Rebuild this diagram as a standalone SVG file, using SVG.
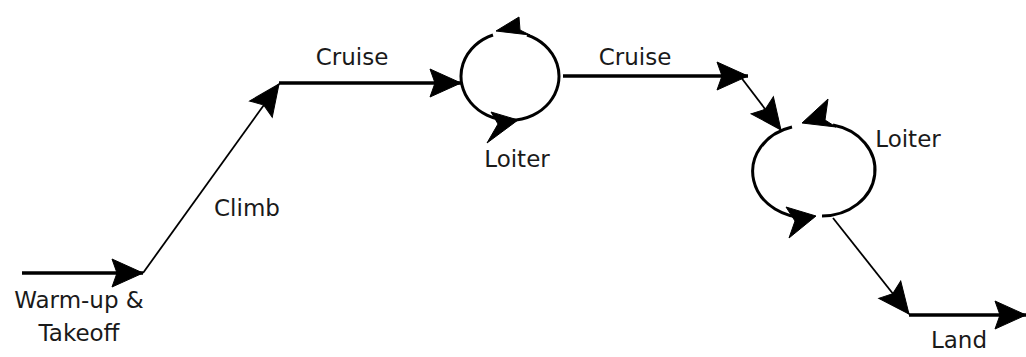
<svg xmlns="http://www.w3.org/2000/svg" width="1026" height="357" viewBox="0 0 1026 357">
  <style>
    .thick { stroke: #000; stroke-width: 3.5; fill: none; }
    .thin { stroke: #000; stroke-width: 1.8; fill: none; }
    .loop { stroke: #000; stroke-width: 3; fill: none; }
    .head { fill: #000; stroke: #000; stroke-width: 1; stroke-linejoin: miter; }
    .lbl { font-family: "DejaVu Sans", Verdana, sans-serif; font-size: 23px; fill: #1a1a1a; text-anchor: middle; }
  </style>
  <defs>
    <marker id="arrow" markerUnits="userSpaceOnUse" markerWidth="40" markerHeight="40" refX="0" refY="0" orient="auto" overflow="visible">
      <path class="head" d="M0,0 L-31,-14 L-26,0 L-31,14 Z"/>
    </marker>
  </defs>

  <!-- flight legs -->
  <g id="connectors">
    <line class="thick" x1="22" y1="273" x2="143" y2="273" marker-end="url(#arrow)"/>
    <line class="thin" x1="143" y1="273" x2="279" y2="84" marker-end="url(#arrow)"/>
    <line class="thick" x1="279" y1="83" x2="461" y2="83" marker-end="url(#arrow)"/>
    <line class="thick" x1="563" y1="76" x2="748" y2="76" marker-end="url(#arrow)"/>
    <line class="thin" x1="740" y1="76" x2="781" y2="130" marker-end="url(#arrow)"/>
    <line class="thin" x1="833" y1="218" x2="909" y2="314" marker-end="url(#arrow)"/>
    <line class="thick" x1="909" y1="315" x2="1026" y2="315" marker-end="url(#arrow)"/>
  </g>

  <!-- first loiter loop -->
  <g id="loiter1">
    <path class="loop" d="M493,35 A49,44 0 1 0 527,35"/>
    <polygon class="head" points="496,31 519,17 520,30 530,35"/>
    <polygon class="head" points="518,120 491,112 498,124 487,143"/>
  </g>

  <!-- second loiter loop -->
  <g id="loiter2">
    <path class="loop" d="M792,127 A53,46 0 0 0 813,217"/>
    <path class="loop" d="M822,216 A53,46 0 0 0 833,125"/>
    <polygon class="head" points="802,123 828,99 825,120 836,127"/>
    <polygon class="head" points="816,216 786,207 795,221 789,238"/>
  </g>

  <!-- labels -->
  <g id="labels">
    <text class="lbl" x="79" y="308">Warm-up &amp;</text>
    <text class="lbl" x="79" y="341">Takeoff</text>
    <text class="lbl" x="247" y="216">Climb</text>
    <text class="lbl" x="352" y="65">Cruise</text>
    <text class="lbl" x="517" y="167">Loiter</text>
    <text class="lbl" x="635" y="65">Cruise</text>
    <text class="lbl" x="908" y="147">Loiter</text>
    <text class="lbl" x="959" y="348">Land</text>
  </g>
</svg>
